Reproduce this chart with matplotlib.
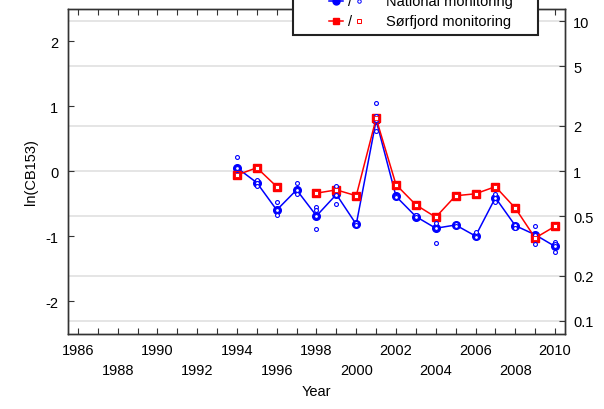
import numpy as np
import matplotlib
matplotlib.use("Agg")
import matplotlib.pyplot as plt
from matplotlib.lines import Line2D
from matplotlib.patches import Rectangle

plt.rcParams["font.family"] = ["Liberation Sans", "DejaVu Sans"]
plt.rcParams["font.size"] = 10.5

# --- data (ln concentration of CB153) ---
years = [1994, 1995, 1996, 1997, 1998, 1999, 2000, 2001, 2002,
         2003, 2004, 2005, 2006, 2007, 2008, 2009, 2010]
national_median = [0.05, -0.18, -0.60, -0.29, -0.69, -0.36, -0.82, 0.78, -0.39,
                   -0.70, -0.88, -0.83, -1.00, -0.41, -0.84, -0.98, -1.16]
sorfjord_median = [-0.06, 0.05, -0.24, np.nan, -0.34, -0.29, -0.38, 0.81, -0.21,
                   -0.52, -0.71, -0.38, -0.35, -0.24, -0.57, -1.03, -0.85]

# individual national samples
nat_ind_years = [1994, 1994, 1994, 1995, 1995, 1995, 1996, 1996, 1996,
                 1997, 1997, 1997, 1998, 1998, 1998, 1998,
                 1999, 1999, 1999, 1999, 2000, 2000,
                 2001, 2001, 2001, 2001, 2002, 2002, 2003, 2003,
                 2004, 2004, 2004, 2005, 2005, 2006, 2006, 2006,
                 2007, 2007, 2007, 2008, 2008, 2009, 2009, 2009,
                 2010, 2010, 2010, 2010]
nat_ind_values = [0.21, 0.05, -0.04, -0.14, -0.18, -0.23, -0.47, -0.60, -0.68,
                  -0.18, -0.29, -0.35, -0.56, -0.60, -0.69, -0.89,
                  -0.23, -0.29, -0.37, -0.51, -0.80, -0.83,
                  1.05, 0.85, 0.78, 0.61, -0.38, -0.40, -0.68, -0.71,
                  -0.80, -0.88, -1.11, -0.82, -0.84, -0.94, -1.00, -1.02,
                  -0.35, -0.41, -0.47, -0.83, -0.88, -0.85, -0.98, -1.12,
                  -1.09, -1.12, -1.16, -1.25]

right_ticks = [0.1, 0.2, 0.5, 1, 2, 5, 10]
left_ticks = [-2, -1, 0, 1, 2]

BLUE = "#0000ff"
RED = "#ff0000"
SPINE = "#333333"

fig = plt.figure(figsize=(6.04, 4.10), dpi=100)
ax = fig.add_axes([0.1126, 0.184, 0.8228, 0.7928])
ax.set_xlim(1985.5, 2010.5)
ax.set_ylim(-2.5, 2.5)

# gridlines at log ticks of right axis
for t in right_ticks:
    ax.axhline(np.log(t), color="#e0e0e0", lw=1.2, zorder=0)

ax.plot(years, national_median, color=BLUE, lw=1.1, marker="o", ms=5.5,
        mfc=BLUE, mec=BLUE, zorder=3)
ax.plot(nat_ind_years, nat_ind_values, ls="none", marker="o", ms=2.8,
        mfc="white", mec=BLUE, mew=0.8, zorder=5)
ax.plot(years, sorfjord_median, color=RED, lw=1.1, marker="s", ms=5.5,
        mfc=RED, mec=RED, zorder=4)
ax.plot(years, sorfjord_median, ls="none", marker="s", ms=2.5,
        mfc="white", mec=RED, mew=0.6, zorder=6)

# axes styling
for s in ax.spines.values():
    s.set_color(SPINE)
    s.set_linewidth(1.0)
ax.set_yticks(left_ticks)
ax.set_yticklabels([str(t) for t in left_ticks])
ax.tick_params(axis="y", direction="in", length=4, color=SPINE, pad=7)
ax.set_xticks(range(1986, 2011))
labs = []
for y in range(1986, 2011):
    if y % 2:
        labs.append("")
    elif (y - 1986) % 4 == 0:
        labs.append(str(y))
    else:
        labs.append("\n" + str(y))
ax.set_xticklabels(labs, linespacing=1.5)
ax.tick_params(axis="x", direction="in", length=4, color=SPINE, pad=7, top=True)
ax.set_ylabel("ln(CB153)", labelpad=5)
ax.set_xlabel("Year", labelpad=5)

ax2 = ax.twinx()
ax2.set_yscale("log")
ax2.set_ylim(np.exp(-2.5), np.exp(2.5))
ax2.set_yticks(right_ticks)
ax2.set_yticklabels(["0.1", "0.2", "0.5", "1", "2", "5", "10"])
ax2.yaxis.set_minor_locator(matplotlib.ticker.NullLocator())
ax2.tick_params(axis="y", direction="in", length=4, color=SPINE, pad=6)
for s in ax2.spines.values():
    s.set_color(SPINE)
    s.set_linewidth(1.0)

# manual legend (box runs off the top of the figure)
W, H = 604.0, 410.0
def fx(px): return px / W
def fy(py): return 1 - py / H

fig.patches.append(Rectangle((fx(293), fy(36)), fx(538) - fx(293), 0.2,
                             transform=fig.transFigure, fc="white",
                             ec="#222222", lw=1.5, zorder=10))
rows = [(2, BLUE, "o", "National monitoring"), (22, RED, "s", "Sørfjord monitoring")]
for py, col, mk, name in rows:
    fig.lines.append(Line2D([fx(329), fx(343)], [fy(py), fy(py)], color=col, lw=1.1,
                            transform=fig.transFigure, zorder=11))
    fig.lines.append(Line2D([fx(336)], [fy(py)], marker=mk, ms=5, color=col,
                            transform=fig.transFigure, zorder=11))
    fig.text(fx(350), fy(py), "/", ha="center", va="center", zorder=11)
    fig.lines.append(Line2D([fx(359)], [fy(py)], marker=mk, ms=2.5, mfc="white",
                            mec=col, mew=0.7, ls="none",
                            transform=fig.transFigure, zorder=11))
    fig.text(fx(386), fy(py), name, ha="left", va="center", zorder=11)

fig.savefig("out.png", dpi=100)
